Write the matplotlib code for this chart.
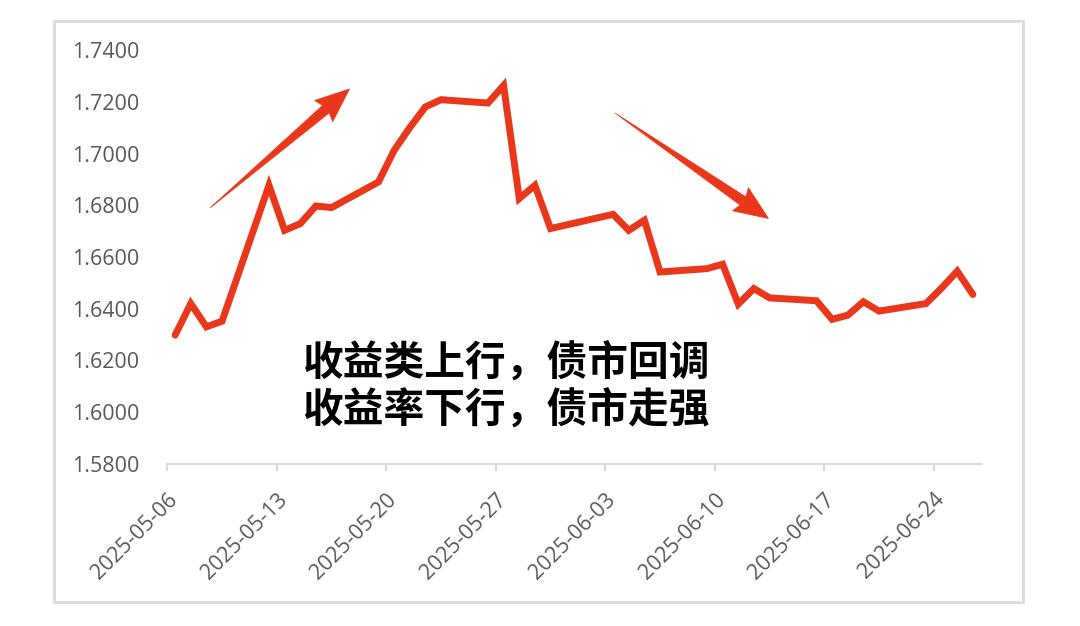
import matplotlib
matplotlib.use('Agg')
import matplotlib.pyplot as plt
import matplotlib.dates as mdates
import matplotlib.ticker as mticker
from matplotlib.patches import Polygon, Rectangle
import numpy as np
import pandas as pd

# daily closing yields
dates = ['2025-05-06', '2025-05-07', '2025-05-08', '2025-05-09', '2025-05-12',
         '2025-05-13', '2025-05-14', '2025-05-15', '2025-05-16', '2025-05-19',
         '2025-05-20', '2025-05-21', '2025-05-22', '2025-05-23', '2025-05-26',
         '2025-05-27', '2025-05-28', '2025-05-29', '2025-05-30', '2025-06-03',
         '2025-06-04', '2025-06-05', '2025-06-06', '2025-06-09', '2025-06-10',
         '2025-06-11', '2025-06-12', '2025-06-13', '2025-06-16', '2025-06-17',
         '2025-06-18', '2025-06-19', '2025-06-20', '2025-06-23', '2025-06-24',
         '2025-06-25', '2025-06-26']
values = [1.6298, 1.6420, 1.6330, 1.6352, 1.6877,
          1.6703, 1.6729, 1.6797, 1.6791, 1.6890,
          1.7012, 1.7100, 1.7180, 1.7208, 1.7195,
          1.7263, 1.6826, 1.6877, 1.6710, 1.6765,
          1.6703, 1.6742, 1.6542, 1.6555, 1.6572,
          1.6418, 1.6478, 1.6442, 1.6431, 1.6359,
          1.6375, 1.6427, 1.6391, 1.6420, 1.6480,
          1.6545, 1.6455]
tick_dates = ['2025-05-06', '2025-05-13', '2025-05-20', '2025-05-27',
              '2025-06-03', '2025-06-10', '2025-06-17', '2025-06-24']
y_ticks = [1.58, 1.60, 1.62, 1.64, 1.66, 1.68, 1.70, 1.72, 1.74]
note_lines = ['收益类上行，债市回调', '收益率下行，债市走强']

RED = '#E8371A'
GRAY = '#595959'
LIGHT = '#D9D9D9'
W, H = 1080, 626

fig = plt.figure(figsize=(W / 100, H / 100), dpi=100)
fig.patch.set_facecolor('white')

# plot area in pixel terms
x0, x1 = 167.3, 980.7
y_bot, y_top = 464, 50
ax = fig.add_axes([x0 / W, 1 - y_bot / H, (x1 - x0) / W, (y_bot - y_top) / H])

x = pd.to_datetime(dates) + pd.Timedelta(hours=12)  # Excel puts points mid-day
ax.plot(x, values, color=RED, lw=5, solid_joinstyle='miter',
        solid_capstyle='round', clip_on=False)

ax.set_ylim(1.58, 1.74)
ax.set_xlim(pd.Timestamp('2025-05-06'), pd.Timestamp('2025-06-27'))
ax.set_yticks(y_ticks)
ax.yaxis.set_major_formatter(mticker.FormatStrFormatter('%.4f'))
ax.set_xticks(pd.to_datetime(tick_dates))
ax.xaxis.set_major_formatter(mdates.DateFormatter('%Y-%m-%d'))

for s in ['top', 'right', 'left']:
    ax.spines[s].set_visible(False)
ax.spines['bottom'].set_color(LIGHT)
ax.spines['bottom'].set_linewidth(1.5)

ax.tick_params(axis='y', length=0, pad=20, labelsize=15.5, labelcolor=GRAY)
ax.tick_params(axis='x', length=5, width=1.5, color=LIGHT, pad=13,
               labelsize=15.5, labelcolor=GRAY)
for lab in ax.get_yticklabels() + ax.get_xticklabels():
    lab.set_fontfamily('Open Sans')
for lab in ax.get_xticklabels():
    lab.set_rotation(45)
    lab.set_ha('right')
    lab.set_rotation_mode('anchor')

# overlay in pixel coords for frame, arrows and the note
ov = fig.add_axes([0, 0, 1, 1])
ov.set_xlim(0, W)
ov.set_ylim(H, 0)
ov.set_facecolor('none')
ov.axis('off')

ov.add_patch(Rectangle((54, 21), 969, 581, fill=False, ec=LIGHT, lw=2))


def taper_arrow(tail, tip, shaft=10, head_w=28, head_l=31):
    t = np.array(tail, float)
    p = np.array(tip, float)
    u = (p - t) / np.linalg.norm(p - t)
    n = np.array([-u[1], u[0]])
    b = p - head_l * u
    pts = [t, b + n * shaft / 2, b - u * 3 + n * head_w / 2, p,
           b - u * 3 - n * head_w / 2, b - n * shaft / 2]
    return Polygon(pts, closed=True, fc=RED, ec=RED, lw=0.5)


ov.add_patch(taper_arrow((210, 208), (349.5, 89)))
ov.add_patch(taper_arrow((615, 113), (768.5, 218.5)))

cjk = ['Noto Sans CJK SC', 'DejaVu Sans']
ov.text(302, 364, note_lines[0], fontsize=29.3, fontweight='bold',
        family=cjk, color='black', ha='left', va='center')
ov.text(302, 411, note_lines[1], fontsize=29.3, fontweight='bold',
        family=cjk, color='black', ha='left', va='center')

fig.savefig('out.png', dpi=100, facecolor='white')
